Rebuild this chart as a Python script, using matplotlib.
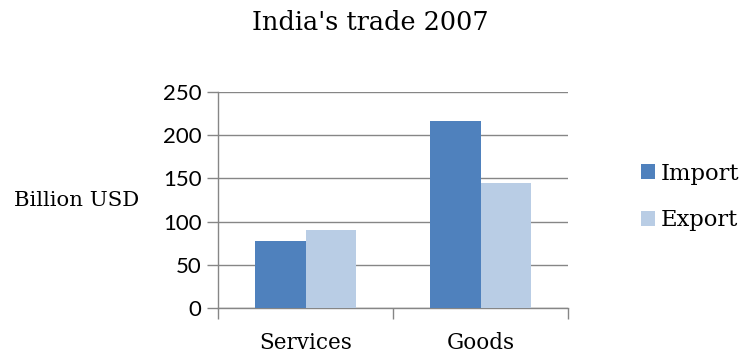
import matplotlib.pyplot as plt
import numpy as np

categories = ["Services", "Goods"]
imports = [77, 217]
exports = [90, 145]
series_names = ["Import", "Export"]
yticks = [0, 50, 100, 150, 200, 250]

plt.rcParams['font.family'] = ['DejaVu Serif']

fig = plt.figure(figsize=(7.44, 3.57), dpi=100)
ax = fig.add_axes([218 / 744, 1 - 308 / 357, 350 / 744, 216 / 357])

x = np.arange(len(categories))
w = 0.286
b1 = ax.bar(x - w / 2, imports, w, color="#4F81BD", zorder=3)
b2 = ax.bar(x + w / 2, exports, w, color="#B9CDE5", zorder=3)

ax.set_xlim(-0.5, 1.5)
ax.set_ylim(0, 250)
ax.set_yticks(yticks)
ax.set_yticklabels([str(t) for t in yticks], fontsize=16, family="Lato")
ax.yaxis.grid(True, color="#868686", linewidth=1, zorder=0)

# category labels centred, tick marks on boundaries
ax.set_xticks([-0.5, 0.5, 1.5])
ax.set_xticklabels([])
ax.set_xticks(x, minor=True)
ax.set_xticklabels(categories, minor=True, fontsize=15.5)
ax.tick_params(axis="x", which="minor", length=0, pad=17)
ax.tick_params(axis="x", which="major", length=8, color="#868686", width=1)
ax.tick_params(axis="y", length=8, color="#868686", width=1, pad=4)

for s in ["top", "right"]:
    ax.spines[s].set_visible(False)
for s in ["left", "bottom"]:
    ax.spines[s].set_color("#868686")
    ax.spines[s].set_linewidth(1)

fig.text(370 / 744, 1 - 22 / 357, "India's trade 2007", fontsize=18.4,
         ha="center", va="center")
fig.text(77 / 744, 1 - 200 / 357, "Billion USD", fontsize=15.3,
         ha="center", va="center")

fig.legend([b1, b2], series_names, loc="center left",
           bbox_to_anchor=(641 / 744, 1 - 197 / 357), frameon=False,
           borderpad=0, borderaxespad=0,
           fontsize=16.3, handlelength=0.62, handleheight=0.62,
           handletextpad=0.25, labelspacing=1.1)

fig.savefig("out.png", dpi=100)
